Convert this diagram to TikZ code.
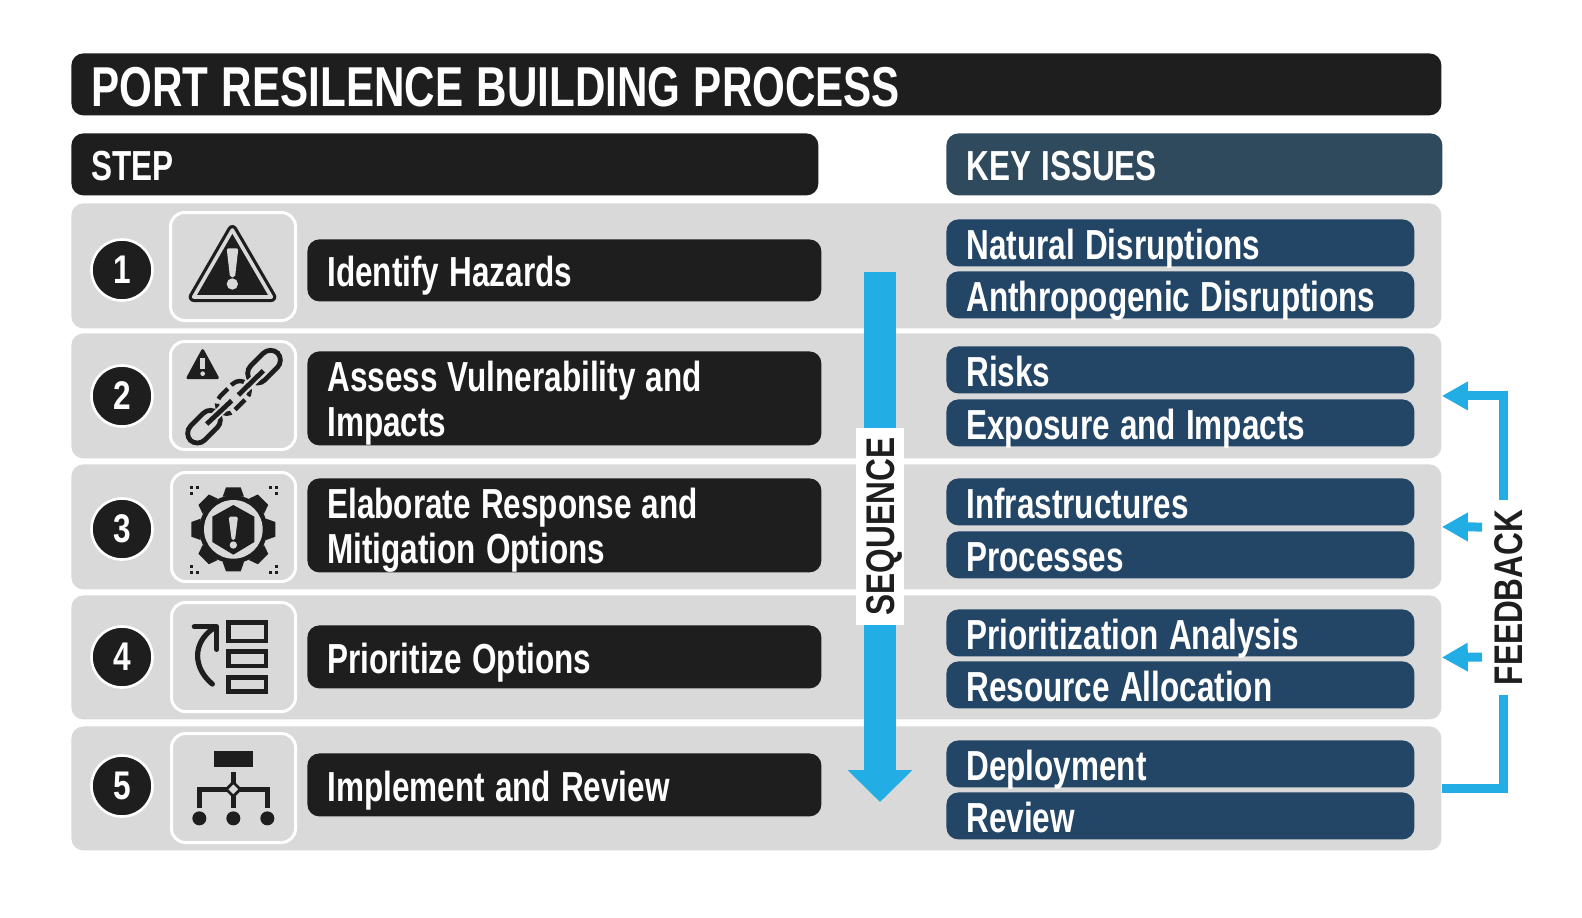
\documentclass[tikz,border=0pt]{standalone}
\usepackage{fontspec}
\setmainfont[FakeStretch=0.75]{Liberation Sans}
\newfontfamily\labelfont[FakeStretch=0.79]{Liberation Sans}
\usetikzlibrary{arrows.meta}
\definecolor{dark}{HTML}{1E1E1E}
\definecolor{panel}{HTML}{D9D9D9}
\definecolor{navy}{HTML}{234566}
\definecolor{slate}{HTML}{2F4A5C}
\definecolor{sky}{HTML}{22AEE4}
\newcommand{\wsp}{\spaceskip=0.24em\xspaceskip=0.24em\relax}
\newcommand{\st}[1]{\wsp\leavevmode\smash{\raisebox{-0.39em}{#1}}}
\newcommand{\ttwo}[2]{\wsp\leavevmode\rule{0pt}{0.83em}#1\\\leavevmode\smash{#2}\rule[-0.1em]{0pt}{0.1em}}
\newcommand{\bodyfont}{\fontsize{21}{22.7}\bfseries\selectfont}
\newcommand{\titlefont}{\fontsize{28.1}{29}\bfseries\selectfont}
\tikzset{
  bx/.style n args={4}{anchor=north west,at={(#1,#2)},minimum width={(#3-#1)*0.5pt},minimum height={(#4-#2)*0.5pt}},
  card/.style={rectangle,rounded corners=6pt,inner sep=0pt,text=white,align=left,font=\bodyfont,inner xsep=10pt},
  rowpanel/.style={rectangle,rounded corners=6pt,fill=panel,inner sep=0pt},
  titlebar/.style={card,fill=dark,text width=665pt,font=\titlefont},
  stephead/.style={card,fill=dark,text width=353.5pt},
  keyhead/.style={card,fill=slate,text width=228pt},
  pill/.style={card,fill=dark,text width=237pt},
  issue/.style={card,fill=navy,text width=214pt},
  num/.style={circle,fill=dark,draw=white,line width=1.3pt,minimum size=30.5pt,inner sep=0pt,text=white,font=\labelfont\fontsize{20}{22}\bfseries\selectfont},
  iconbox/.style={rectangle,rounded corners=7pt,draw=white,line width=1.5pt,inner sep=0pt},
  seqarrow/.style={draw=sky,line width=16pt,-{Triangle[width=31.5pt,length=16pt,sep=0pt]}},
  fbarrow/.style={draw=sky,line width=4.5pt,-{Triangle[width=13.5pt,length=13pt,sep=0pt]}},
  fbline/.style={draw=sky,line width=4.5pt},
  vlabel/.style={rotate=90,font=\labelfont\fontsize{20}{22}\bfseries\selectfont,text=dark,inner sep=0pt,text height=14.3pt,text depth=0pt},
  icon/.style={shift={(#1)},x=0.16667pt,y=-0.16667pt},
}
\begin{document}
\begin{tikzpicture}[x=0.5pt,y=-0.5pt]
\useasboundingbox (0,0) rectangle (1582,917);
\fill[white] (0,0) rectangle (1582,917);
% Rows
\node[rowpanel,bx={71}{203}{1441}{328}] (row1) {};
\node[rowpanel,bx={71}{333}{1441}{458}] (row2) {};
\node[rowpanel,bx={71}{464}{1441}{589}] (row3) {};
\node[rowpanel,bx={71}{595}{1441}{719}] (row4) {};
\node[rowpanel,bx={71}{726}{1441}{850}] (row5) {};
% Headers
\node[titlebar,bx={71}{53}{1441}{115}] (title) {\st{PORT RESILENCE BUILDING PROCESS}};
\node[stephead,bx={71}{133}{818}{195}] (step) {\st{STEP}};
\node[keyhead,bx={946}{133}{1442}{195}] (key) {\st{KEY ISSUES}};
% Numbers
\node[num] (n1) at (122,270) {1};
\node[num] (n2) at (122,396) {2};
\node[num] (n3) at (122,529) {3};
\node[num] (n4) at (122,657) {4};
\node[num] (n5) at (122,786) {5};
% Icon boxes
\node[iconbox,bx={169}{211}{294}{319}] (ib1) {};
\node[iconbox,bx={169}{340}{294}{448}] (ib2) {};
\node[iconbox,bx={170}{471}{294}{580}] (ib3) {};
\node[iconbox,bx={170}{601}{294}{710}] (ib4) {};
\node[iconbox,bx={170}{732}{294}{841}] (ib5) {};
% Steps
\node[pill,bx={307}{239}{821}{301}] (s1) {\st{Identify Hazards}};
\node[pill,bx={307}{351}{821}{445}] (s2) {\ttwo{Assess Vulnerability and}{Impacts}};
\node[pill,bx={307}{478}{821}{572}] (s3) {\ttwo{Elaborate Response and}{Mitigation Options}};
\node[pill,bx={307}{625}{821}{688}] (s4) {\st{Prioritize Options}};
\node[pill,bx={307}{753}{821}{816}] (s5) {\st{Implement and Review}};
% Issues
\node[issue,bx={946}{219}{1414}{266}] (i1a) {\st{Natural Disruptions}};
\node[issue,bx={946}{271}{1414}{318}] (i1b) {\st{Anthropogenic Disruptions}};
\node[issue,bx={946}{346}{1414}{393}] (i2a) {\st{Risks}};
\node[issue,bx={946}{399}{1414}{446}] (i2b) {\st{Exposure and Impacts}};
\node[issue,bx={946}{478}{1414}{525}] (i3a) {\st{Infrastructures}};
\node[issue,bx={946}{531}{1414}{578}] (i3b) {\st{Processes}};
\node[issue,bx={946}{609}{1414}{656}] (i4a) {\st{Prioritization Analysis}};
\node[issue,bx={946}{661}{1414}{708}] (i4b) {\st{Resource Allocation}};
\node[issue,bx={946}{740}{1414}{787}] (i5a) {\st{Deployment}};
\node[issue,bx={946}{792}{1414}{839}] (i5b) {\st{Review}};
% Sequence arrow
\coordinate (seqstart) at (880,272);
\coordinate (seqend) at (880,802);
\draw[seqarrow] (seqstart) -- (seqend);
\node[fill=white,minimum width=197*0.5pt,minimum height=48*0.5pt,vlabel] (seq) at (880,526.5) {SEQUENCE};
% Feedback
\node[vlabel] (fb) at (1508,597.5) {FEEDBACK};
\coordinate (fbtop) at (1503.5,500);
\coordinate (fbbot) at (1503.5,695);
\coordinate (fb3) at (1482,527);
\coordinate (fb4) at (1482,657);
\draw[fbarrow] (fbtop) |- (row2.east);
\draw[fbarrow] (fb3) -- (row3.east);
\draw[fbarrow] (fb4) -- (row4.east);
\draw[fbline] (row5.east) -| (fbbot);
% Icon 1
\begin{scope}[icon={60,200}]
  \filldraw[dark,line width=5pt,line join=round] (517,90)--(401,291)--(634,291)--cycle;
  \draw[panel,line width=1.8pt,line join=round] (517,90)--(401,291)--(634,291)--cycle;
  \fill[panel,rounded corners=1pt] (500,145)--(535,145)--(525,232)--(510,232)--cycle;
  \fill[panel] (517,252) circle (17);
\end{scope}
% Icon 2
\begin{scope}[icon={60,200}]
  \filldraw[dark,line width=1.5pt,line join=round] (428,452)--(384,533)--(472,533)--cycle;
  \fill[panel] (421,475) rectangle (435,508);
  \fill[panel] (428,521) circle (7);
  \draw[dark,line width=2.4pt,rounded corners=5.3pt,rotate around={45:(612,500)}] (554,470) rectangle (670,530);
  \draw[dark,line width=2.4pt,rounded corners=5.3pt,rotate around={45:(432,680)}] (374,650) rectangle (490,710);
  \draw[dark,line width=2.2pt,dash pattern=on 7pt off 2.5pt,rounded corners=5.3pt,rotate around={45:(520,592)}] (462,562) rectangle (578,622);
  \draw[panel,line width=4.5pt] (618,505)--(530,590);
  \draw[panel,line width=4.5pt] (520,595)--(435,678);
  \draw[dark,line width=2.4pt] (610,512)--(535,585);
  \draw[dark,line width=2.4pt] (515,602)--(440,672);
\end{scope}
% Icon 3
\begin{scope}[icon={60,460}]
  \fill[dark] (520,208) circle (102);
  \foreach \a in {0,45,...,315}{
    \fill[dark,rotate around={\a:(520,208)}] (488,110)--(498,82)--(542,82)--(552,110)--cycle;
  }
  \fill[panel] (520,208) circle (88);
  \fill[dark] (520,135)--(583,170)--(583,246)--(520,284)--(457,246)--(457,170)--cycle;
  \fill[panel,rounded corners=0.8pt] (506,170)--(534,170)--(525,240)--(515,240)--cycle;
  \fill[panel] (520,255) circle (11);
  \foreach \p in {(394,83),(412,83),(394,101),(632,83),(650,83),(650,101),(394,319),(394,337),(412,337),(650,319),(632,337),(650,337)}{
    \fill[dark] \p ++(-5,-5) rectangle ++(10,10);
  }
\end{scope}
% Icon 4
\begin{scope}[icon={60,460}]
  \draw[dark,line width=2.4pt] (505,487) rectangle (618,543);
  \draw[dark,line width=2.4pt] (505,575) rectangle (618,618);
  \draw[dark,line width=2.4pt] (505,652) rectangle (618,695);
  \draw[dark,line width=2.6pt,line cap=round,line join=round] (403,500)--(470,500)--(470,568);
  \draw[dark,line width=2.6pt,line cap=round] (457,672) .. controls (400,625) and (395,550) .. (460,505);
\end{scope}
% Icon 5
\begin{scope}[icon={60,700}]
  \fill[dark] (463,153) rectangle (578,202);
  \draw[dark,line width=2.2pt] (520,215)--(520,325);
  \draw[dark,line width=2.2pt] (418,325)--(418,268)--(622,268)--(622,325);
  \filldraw[fill=panel,draw=dark,line width=1.4pt] (520,247)--(541,268)--(520,289)--(499,268)--cycle;
  \fill[dark] (418,355) circle (21);
  \fill[dark] (520,355) circle (21);
  \fill[dark] (622,355) circle (21);
\end{scope}
\end{tikzpicture}
\end{document}
